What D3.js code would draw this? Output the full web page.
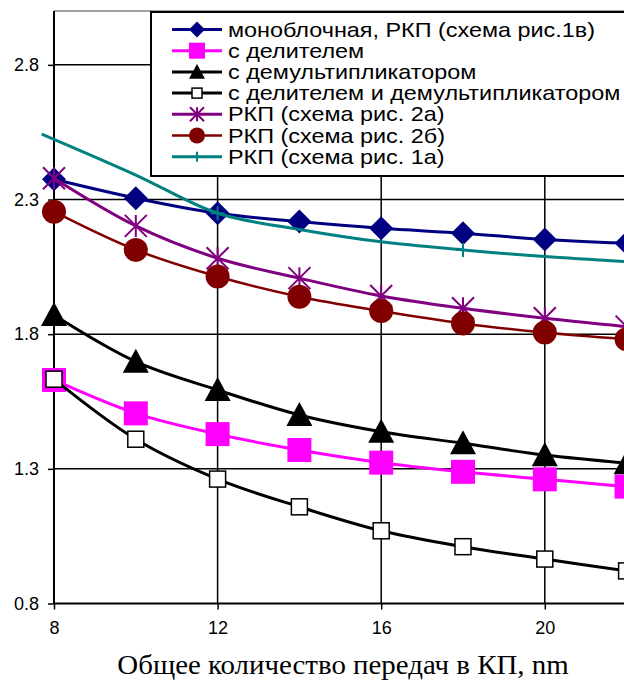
<!DOCTYPE html>
<html>
<head>
<meta charset="utf-8">
<style>
  body { margin: 0; background: white; }
  svg { display: block; }
  text { font-family: "Liberation Sans", Arial, sans-serif; fill: black; }
  .tick text { font-size: 18px; }
</style>
</head>
<body>
<div id="chart"></div>
<script src="https://d3js.org/d3.v7.min.js"></script>
<script>

// data
var xValues = [8, 10, 12, 14, 16, 18, 20, 22];
var xTicks = [8, 12, 16, 20];
var yTicks = [0.8, 1.3, 1.8, 2.3, 2.8];

var monoblock   = [2.375, 2.305, 2.249, 2.218, 2.193, 2.175, 2.152, 2.138];
var divider     = [1.630, 1.506, 1.429, 1.370, 1.323, 1.289, 1.261, 1.234];
var demult      = [1.871, 1.698, 1.593, 1.500, 1.438, 1.395, 1.351, 1.321];
var divDemult   = [1.633, 1.410, 1.262, 1.159, 1.070, 1.011, 0.965, 0.921];
var rkp2a       = [2.379, 2.202, 2.082, 2.008, 1.942, 1.896, 1.859, 1.828];
var rkp2b       = [2.255, 2.113, 2.014, 1.939, 1.886, 1.840, 1.806, 1.781];
var rkp1aX      = [7.7, 10, 12, 14, 16, 18, 20, 22];
var rkp1a       = [2.543, 2.391, 2.249, 2.189, 2.143, 2.113, 2.088, 2.069];
var rkp1aMarks  = [12, 18];

var series = [
  { name: "моноблочная, РКП (схема рис.1в)", x: xValues, y: monoblock, color: "#000080", marker: "diamond", size: 12, width: 3 },
  { name: "с делителем", x: xValues, y: divider, color: "#ff00ff", marker: "square", size: 12, width: 3 },
  { name: "с демультипликатором", x: xValues, y: demult, color: "#000000", marker: "triangle", size: 13, width: 3 },
  { name: "с делителем и демультипликатором", x: xValues, y: divDemult, color: "#000000", marker: "open", size: 8, width: 3 },
  { name: "РКП (схема рис. 2а)", x: xValues, y: rkp2a, color: "#800080", marker: "star", size: 11, width: 3 },
  { name: "РКП (схема рис. 2б)", x: xValues, y: rkp2b, color: "#800000", marker: "circle", size: 12, width: 2.5 },
  { name: "РКП (схема рис. 1а)", x: rkp1aX, y: rkp1a, color: "#008080", marker: "plus", size: 7, width: 3, marks: rkp1aMarks }
];

var W = 624, H = 683;
var plotLeft = 54, plotTop = 11, plotBottom = 603.5;

var svg = d3.select("#chart").append("svg")
  .attr("width", W).attr("height", H);

var x = d3.scaleLinear().domain([8, 22]).range([plotLeft, plotLeft + 14 * 40.9]);
var y = d3.scaleLinear().domain([0.8, 3.0]).range([plotBottom, plotTop]);

// gridlines
svg.append("line")
  .attr("x1", plotLeft).attr("x2", W).attr("y1", plotTop).attr("y2", plotTop)
  .attr("stroke", "#808080").attr("stroke-width", 1.5);

svg.selectAll(".hgrid").data(yTicks.slice(1)).enter().append("line")
  .attr("x1", plotLeft).attr("x2", W)
  .attr("y1", function(d) { return y(d); }).attr("y2", function(d) { return y(d); })
  .attr("stroke", "black").attr("stroke-width", 1.5);

svg.selectAll(".vgrid").data(xTicks.slice(1)).enter().append("line")
  .attr("x1", function(d) { return x(d); }).attr("x2", function(d) { return x(d); })
  .attr("y1", plotTop).attr("y2", plotBottom)
  .attr("stroke", "black").attr("stroke-width", 1.5);

// axes
var yAxis = d3.axisLeft(y).tickValues(yTicks).tickSize(6).tickPadding(9)
  .tickFormat(d3.format(".1f"));
var gy = svg.append("g").attr("transform", "translate(" + plotLeft + ",0)").call(yAxis);
gy.select(".domain").attr("stroke-width", 2).attr("d", "M0," + plotTop + "V" + plotBottom);
gy.selectAll("line").attr("stroke-width", 1.5);
gy.attr("font-size", 18).attr("font-family", "Liberation Sans, Arial, sans-serif");

var xAxis = d3.axisBottom(x).tickValues(xTicks).tickSize(6).tickPadding(12)
  .tickFormat(d3.format("d"));
var gx = svg.append("g").attr("transform", "translate(0," + plotBottom + ")").call(xAxis);
gx.select(".domain").attr("stroke-width", 2).attr("d", "M" + plotLeft + ",0H" + W);
gx.selectAll("line").attr("stroke-width", 1.5);
gx.attr("font-size", 18).attr("font-family", "Liberation Sans, Arial, sans-serif");

// markers
function marker(g, type, s, color) {
  if (type == "diamond") {
    g.append("path").attr("d", "M0," + (-s) + "L" + s + ",0L0," + s + "L" + (-s) + ",0Z")
      .attr("fill", color);
  } else if (type == "square") {
    g.append("rect").attr("x", -s).attr("y", -s).attr("width", 2 * s).attr("height", 2 * s)
      .attr("fill", color);
  } else if (type == "open") {
    g.append("rect").attr("x", -s).attr("y", -s).attr("width", 2 * s).attr("height", 2 * s)
      .attr("fill", "white").attr("stroke", color).attr("stroke-width", 1.5);
  } else if (type == "triangle") {
    g.append("path").attr("d", "M0," + (-s) + "L" + s + "," + (s * 0.85) + "L" + (-s) + "," + (s * 0.85) + "Z")
      .attr("fill", color);
  } else if (type == "circle") {
    g.append("circle").attr("r", s).attr("fill", color);
  } else if (type == "star") {
    g.append("path")
      .attr("d", "M0," + (-s) + "V" + s + "M" + (-s) + "," + (-s) + "L" + s + "," + s + "M" + s + "," + (-s) + "L" + (-s) + "," + s)
      .attr("stroke", color).attr("stroke-width", 2).attr("fill", "none");
  } else if (type == "plus") {
    g.append("path").attr("d", "M0," + (-s) + "V" + s + "M" + (-s) + ",0H" + s)
      .attr("stroke", color).attr("stroke-width", 2).attr("fill", "none");
  }
}

var line = d3.line().curve(d3.curveCatmullRom.alpha(0.5))
  .x(function(d) { return x(d[0]); })
  .y(function(d) { return y(d[1]); });

series.forEach(function(s) {
  var pts = s.x.map(function(v, i) { return [v, s.y[i]]; });
  var g = svg.append("g");
  g.append("path").attr("d", line(pts))
    .attr("fill", "none").attr("stroke", s.color).attr("stroke-width", s.width);
  pts.forEach(function(p) {
    if (s.marks && s.marks.indexOf(p[0]) < 0) return;
    var m = g.append("g").attr("transform", "translate(" + x(p[0]) + "," + y(p[1]) + ")");
    marker(m, s.marker, s.size, s.color);
  });
});

// legend
var legend = svg.append("g").attr("transform", "translate(151,12)");
legend.append("rect").attr("x", 0).attr("y", 0).attr("width", 500).attr("height", 164)
  .attr("fill", "white").attr("stroke", "black").attr("stroke-width", 2);

series.forEach(function(s, i) {
  var ly = 17.5 + i * 21.2;
  var row = legend.append("g").attr("transform", "translate(0," + ly + ")");
  row.append("line").attr("x1", 21).attr("x2", 71).attr("y1", 0).attr("y2", 0)
    .attr("stroke", s.color).attr("stroke-width", s.width);
  var m = row.append("g").attr("transform", "translate(46,0)");
  marker(m, s.marker, Math.round(s.size * 0.65), s.color);
  row.append("text").attr("transform", "translate(77,7) scale(1.17,1)")
    .style("font-size", "20px").text(s.name);
});

// axis title
svg.append("text")
  .attr("transform", "translate(343,674) scale(1.07,1)")
  .attr("text-anchor", "middle")
  .style("font-family", "'Liberation Serif', 'Times New Roman', serif")
  .style("font-size", "27px")
  .text("Общее количество передач в КП, nm");

</script>
</body>
</html>
